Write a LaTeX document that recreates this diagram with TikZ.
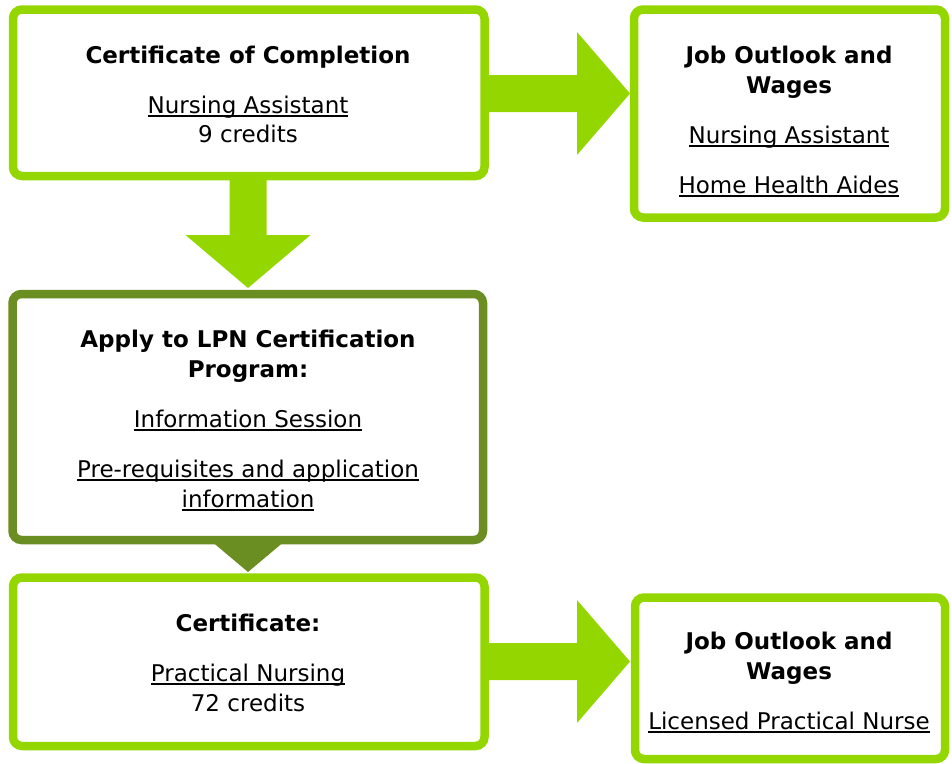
\documentclass[tikz,border=0pt]{standalone}
\usepackage{fontspec}
\setmainfont{DejaVu Sans}
\definecolor{limeg}{HTML}{94D600}
\definecolor{oliveg}{HTML}{6B8E23}
\newsavebox\ulbox
\newcommand\ulk[1]{\sbox\ulbox{#1}\rlap{\rule[-3.6pt]{\wd\ulbox}{1.5pt}}\usebox\ulbox}
\tikzset{
  box/.style={draw=limeg, fill=white, line width=8.5pt, rounded corners=9pt, inner sep=0pt},
  dbox/.style={box, draw=oliveg},
  txt/.style={font=\fontsize{23}{29}\selectfont, inner sep=0pt, anchor=base},
  blockarrow/.style={fill=limeg, draw=none},
  darrow/.style={fill=oliveg, draw=none}
}
\begin{document}
\begin{tikzpicture}[x=1pt,y=-1pt]
\useasboundingbox (0,0) rectangle (952,763);
\clip (0,0) rectangle (952,763);
% connectors (block arrows), drawn first so the boxes cover their ends
\fill[blockarrow] (484,75) -- (577,75) -- (577,32) -- (630,93.5) -- (577,155) -- (577,112) -- (484,112) -- cycle;
\fill[blockarrow] (229.5,176) -- (229.5,235) -- (185.5,235) -- (248,288) -- (310.5,235) -- (266.5,235) -- (266.5,176) -- cycle;
\fill[darrow] (210,540) -- (286,540) -- (248,572) -- cycle;
\fill[blockarrow] (484,643) -- (577,643) -- (577,600) -- (630,661.5) -- (577,723) -- (577,680) -- (484,680) -- cycle;
% boxes
\node[box, minimum width=471.5pt, minimum height=166.5pt] (b1) at (248.75,92.75) {};
\node[box, minimum width=311pt, minimum height=208pt] (b2) at (789.5,113.5) {};
\node[dbox, minimum width=470.5pt, minimum height=246pt] (b3) at (247.75,417) {};
\node[box, minimum width=471.5pt, minimum height=168.5pt] (b4) at (248.75,661.75) {};
\node[box, minimum width=310pt, minimum height=161.5pt] (b5) at (790,678.25) {};
% texts
\node[txt] (t1a) at (248,63) {\bfseries Certificate of Completion};
\node[txt] (t1b) at (248,113) {\ulk{Nursing Assistant}};
\node[txt] (t1c) at (248,142) {9 credits};
\node[txt] (t2a) at (789,63) {\bfseries Job Outlook and};
\node[txt] (t2b) at (789,93) {\bfseries Wages};
\node[txt] (t2c) at (789,143) {\ulk{Nursing Assistant}};
\node[txt] (t2d) at (789,193) {\ulk{Home Health Aides}};
\node[txt] (t3a) at (248,347) {\bfseries Apply to LPN Certification};
\node[txt] (t3b) at (248,377) {\bfseries Program:};
\node[txt] (t3c) at (248,427) {\ulk{Information Session}};
\node[txt] (t3d) at (248,477) {\ulk{Pre-requisites and application}};
\node[txt] (t3e) at (248,507) {\ulk{information}};
\node[txt] (t4a) at (248,631) {\bfseries Certificate:};
\node[txt] (t4b) at (248,681) {\ulk{Practical Nursing}};
\node[txt] (t4c) at (248,711) {72 credits};
\node[txt] (t5a) at (789,649) {\bfseries Job Outlook and};
\node[txt] (t5b) at (789,679) {\bfseries Wages};
\node[txt] (t5c) at (789,729) {\ulk{Licensed Practical Nurse}};
\end{tikzpicture}
\end{document}
